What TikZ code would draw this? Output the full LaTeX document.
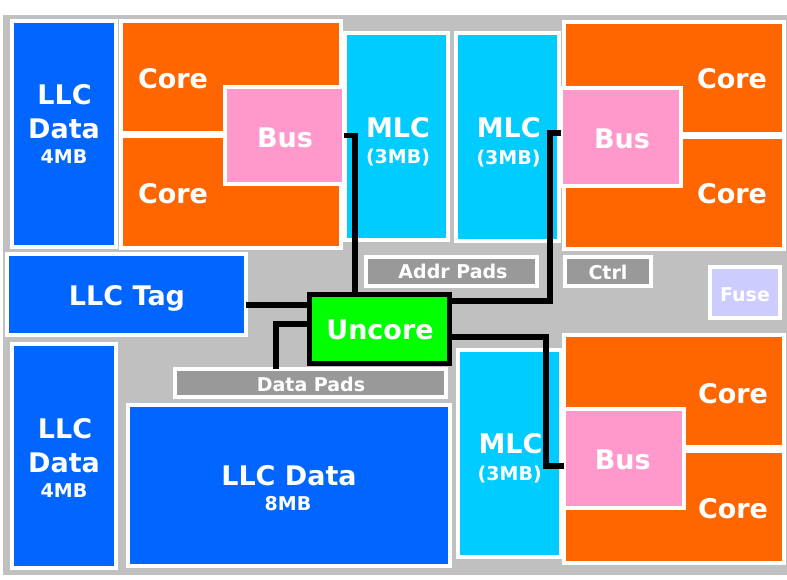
\documentclass[tikz,border=0pt]{standalone}
\usepackage{fontspec}
\setmainfont{DejaVu Sans}
\definecolor{llcblue}{HTML}{0066FF}
\definecolor{coreorange}{HTML}{FF6600}
\definecolor{mlccyan}{HTML}{00CCFF}
\definecolor{buspink}{HTML}{FF99CC}
\definecolor{uncgreen}{HTML}{00FF00}
\definecolor{padgray}{HTML}{999999}
\definecolor{bggray}{HTML}{C0C0C0}
\definecolor{fuselav}{HTML}{CCCCFF}
\newcommand{\chipbox}[6]{\node[blk, fill=#6, minimum width={(#4-#2)*1pt}, minimum height={(#5-#3)*1pt}] (#1) at ({(#2+#4)/2},{(#3+#5)/2}) {};}
\begin{document}
\begin{tikzpicture}[x=1pt,y=-1pt,
  blk/.style={rectangle, draw=white, line width=4pt, inner sep=0pt, outer sep=0pt},
  wire/.style={draw=black, line width=5.5pt},
  big/.style={text=white, font=\fontsize{27}{30}\selectfont\bfseries, inner sep=0pt},
  small/.style={text=white, font=\fontsize{19}{22}\selectfont\bfseries, inner sep=0pt}]
\useasboundingbox (0,0) rectangle (787,579);
\fill[white] (0,0) rectangle (787,579);
\fill[bggray] (3,15) rectangle (787,575);

% top-left
\chipbox{llcdA}{12}{21}{116}{247}{llcblue}
\chipbox{coreA}{121}{21}{341}{133}{coreorange}
\chipbox{coreB}{121}{136}{341}{248}{coreorange}
\chipbox{busA}{225}{87}{344}{184}{buspink}
\chipbox{mlcA}{345}{33}{448}{240}{mlccyan}
\chipbox{mlcB}{456}{33}{559}{241}{mlccyan}
% top-right
\chipbox{coreC}{564}{22}{784}{134}{coreorange}
\chipbox{coreD}{564}{137}{784}{249}{coreorange}
\chipbox{busB}{561}{88}{681}{186}{buspink}
% middle
\chipbox{addr}{366}{256.5}{537}{285.5}{padgray}
\chipbox{ctrl}{565}{257}{651}{286}{padgray}
\chipbox{fuse}{710}{267}{780}{318}{fuselav}
\chipbox{llctag}{7}{254}{246}{335}{llcblue}
% bottom-left
\chipbox{llcdB}{12}{344}{116}{568}{llcblue}
\chipbox{datapads}{175}{369}{446}{397}{padgray}
\chipbox{llcdC}{128}{405}{450}{566}{llcblue}
% bottom-right
\chipbox{mlcC}{458}{350}{561}{557}{mlccyan}
\chipbox{coreE}{564}{335}{784}{447}{coreorange}
\chipbox{coreF}{564}{451}{784}{563}{coreorange}
\chipbox{busC}{563.5}{409}{683.5}{508}{buspink}

% uncore
\node[rectangle, draw=black, line width=5pt, fill=uncgreen, inner sep=0pt, outer sep=0pt,
  minimum width=140pt, minimum height=69pt] (uncore) at (379.5,329) {};

% wires
\coordinate (wa) at (355,0);
\coordinate (wb) at (550,301);
\coordinate (wc) at (546,337);
\coordinate (wd) at (546,466);
\coordinate (we) at (0,305);
\coordinate (wf) at (276,324);
\draw[wire] (busA.east) -| (wa |- uncore.north);
\draw[wire] ([yshift=4pt]busB.west) -| (wb) -- (wb -| uncore.east);
\draw[wire] (wc -| uncore.east) -- (wc) -- (wd) -- (wd -| busC.west);
\draw[wire] (we -| llctag.east) -- (we -| uncore.west);
\draw[wire] (wf -| uncore.west) -- (wf) -- (wf |- datapads.north);

% texts
\node[big, anchor=base] (tA1) at (64.5,104) {LLC};
\node[big, anchor=base] (tA2) at (64,138) {Data};
\node[small, anchor=base] (tA3) at (64,163) {4MB};
\node[big, anchor=base] (tcA) at (173,88) {Core};
\node[big, anchor=base] (tcB) at (173,203) {Core};
\node[big, anchor=base] (tbA) at (285,147) {Bus};
\node[big, anchor=base] (tmA1) at (398,137) {MLC};
\node[small, anchor=base] (tmA2) at (398,163) {(3MB)};
\node[big, anchor=base] (tmB1) at (508.7,137) {MLC};
\node[small, anchor=base] (tmB2) at (508.5,164) {(3MB)};
\node[big, anchor=base] (tbB) at (622,148) {Bus};
\node[big, anchor=base] (tcC) at (732,88) {Core};
\node[big, anchor=base] (tcD) at (732,203) {Core};
\node[small, anchor=base] (taddr) at (453,278) {Addr Pads};
\node[small, anchor=base] (tctrl) at (608,279) {Ctrl};
\node[small, anchor=base] (tfuse) at (745,301) {Fuse};
\node[big, anchor=base] (ttag) at (127,305) {LLC Tag};
\node[big, anchor=base] (tunc) at (380,339) {Uncore};
\node[small, anchor=base] (tdp) at (311,391) {Data Pads};
\node[big, anchor=base] (tB1) at (65,438) {LLC};
\node[big, anchor=base] (tB2) at (64,472) {Data};
\node[small, anchor=base] (tB3) at (64,497) {4MB};
\node[big, anchor=base] (tC1) at (289,485) {LLC Data};
\node[small, anchor=base] (tC2) at (288,510) {8MB};
\node[big, anchor=base] (tmC1) at (510.5,453) {MLC};
\node[small, anchor=base] (tmC2) at (509.7,480) {(3MB)};
\node[big, anchor=base] (tbC) at (622.8,469) {Bus};
\node[big, anchor=base] (tcE) at (733,403) {Core};
\node[big, anchor=base] (tcF) at (733,518) {Core};
\end{tikzpicture}
\end{document}
